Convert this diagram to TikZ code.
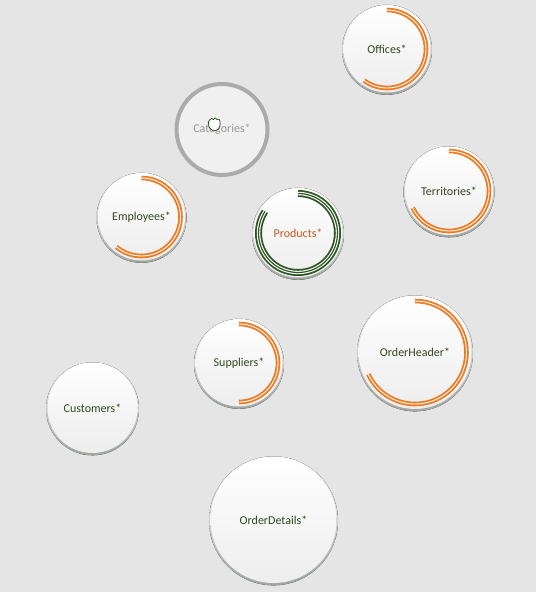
\documentclass[tikz,border=0pt]{standalone}
\usepackage{fontspec}
\setmainfont{Carlito}
\definecolor{bg}{HTML}{E5E5E5}
\definecolor{txt}{RGB}{52,72,30}
\definecolor{ring}{HTML}{EE7A22}
\definecolor{pgreen}{RGB}{45,85,35}
\definecolor{prodtxt}{RGB}{196,88,30}
\definecolor{rimdark}{HTML}{9FA6A0}
\tikzset{
  bubble/.style={circle, inner sep=0pt, top color=white, bottom color=black!7, text=txt, font=\fontsize{12}{14}\selectfont},
  rim/.style={top color=black!3, bottom color=rimdark},
  orangering/.style={draw=ring, line width=4.6pt},
  ringgap/.style={draw=white, line width=0.9pt},
}
\newcommand\mkbubble[5]{% name, x, y, r, text
  \fill[rim] (#2,#3+0.8) circle[radius=#4];
  \node[bubble, minimum size={(2*#4-3)*1pt}] (#1) at (#2,#3) {#5};
}
\newcommand\mkring[4]{% node, radius, end angle
  \draw[orangering] ([shift={(-90:#2)}]#1.center) arc[start angle=-90, end angle=#3, radius=#2];
  \draw[ringgap] ([shift={(-90:#2)}]#1.center) arc[start angle=-90, end angle=#3, radius=#2];
}
\begin{document}
\begin{tikzpicture}[x=1pt,y=-1pt]
\fill[bg] (0,0) rectangle (536,592);
\useasboundingbox (0,0) rectangle (536,592);

% Categories (greyed)
\node[circle, inner sep=0pt, minimum size=95pt, fill=black!6, text=black!40, font=\fontsize{12}{14}\selectfont] (categories) at (222,129.5) {Categories*};
\draw[black!33, line width=4pt] (categories.center) circle[radius=45.5];
% hand cursor
\draw[pgreen, fill=white, line width=0.8pt, line join=round]
  (209,127) .. controls (208,123) and (208,120) .. (210,119.5)
  .. controls (211,118) and (213,118) .. (213.5,119.5)
  .. controls (214,117.5) and (216.5,117.5) .. (217,119.5)
  .. controls (218,118.5) and (220.5,119) .. (220,121.5)
  .. controls (220.5,125) and (220,129) .. (216,130.5)
  .. controls (213,131) and (210,130) .. cycle;

\mkbubble{offices}{387}{49}{45}{Offices*}
\mkring{offices}{39}{126}

\mkbubble{employees}{141.5}{217}{45}{Employees*}
\mkring{employees}{39}{130}

% Products with green triple ring
\mkbubble{products}{298}{233}{46}{\textcolor{prodtxt}{Products*}}
\draw[pgreen, line width=7pt] ([shift={(-90:39.5)}]products.center) arc[start angle=-90, end angle=213, radius=39.5];
\draw[white, line width=3.4pt] ([shift={(-90:39.5)}]products.center) arc[start angle=-90, end angle=213, radius=39.5];
\draw[pgreen, line width=1.2pt] ([shift={(-90:39.5)}]products.center) arc[start angle=-90, end angle=213, radius=39.5];

\mkbubble{territories}{449}{191}{45.5}{Territories*}
\mkring{territories}{40}{155}

\mkbubble{suppliers}{239}{363}{45}{Suppliers*}
\mkring{suppliers}{39}{90}

\mkbubble{orderheader}{415}{352.5}{58}{OrderHeader*}
\mkring{orderheader}{51.5}{155}

\mkbubble{customers}{92.5}{408}{46.5}{Customers*}

\mkbubble{orderdetails}{273.5}{520}{64.5}{OrderDetails*}
\end{tikzpicture}
\end{document}
